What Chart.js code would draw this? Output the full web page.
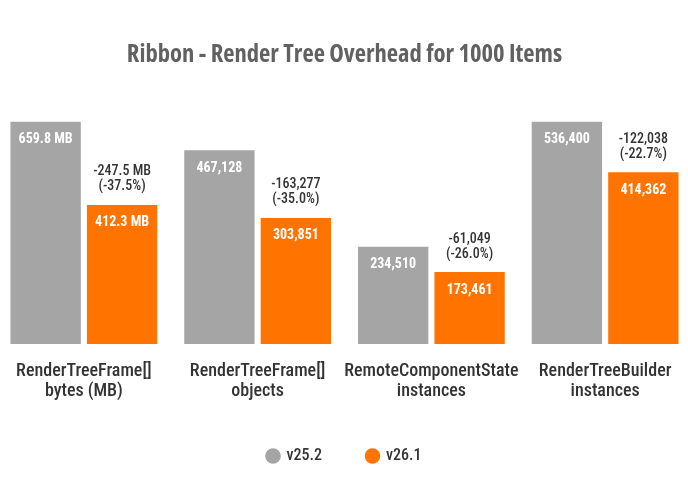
<!DOCTYPE html>
<html>
<head>
  <title>Ribbon - Render Tree Overhead</title>
  <script src="https://cdn.jsdelivr.net/npm/chart.js"></script>
  <style>
    body { margin: 0; background: #fff; overflow: hidden; }
    #wrap { width: 695px; height: 500px; margin-left: -3px; }
  </style>
</head>
<body>
  <div id="wrap"><canvas id="chart"></canvas></div>

  <script>
    // categories (multi-line tick labels)
    let categories = [
      ["RenderTreeFrame[]", "bytes (MB)"],
      ["RenderTreeFrame[]", "objects"],
      ["RemoteComponentState", "instances"],
      ["RenderTreeBuilder", "instances"]
    ];
    let isMB = [true, false, false, false];
    let v252 = [659.8, 467128, 234510, 536400];
    let v261 = [412.3, 303851, 173461, 414362];
    let changePct = [-37.5, -35.0, -26.0, -22.7];
    // each unit family is drawn against its own largest value
    let scaleBase = [659.8, 536400, 536400, 536400];

    let GRAY = "#a5a5a5";
    let ORANGE = "#ff7300";

    function fmt(v, mb) {
      if (mb) return v.toFixed(1) + " MB";
      return Math.round(v).toLocaleString("en-US");
    }

    function fmtDiff(i) {
      let d = v261[i] - v252[i];
      let s = isMB[i] ? d.toFixed(1) + " MB" : Math.round(d).toLocaleString("en-US");
      return [s, "(" + changePct[i].toFixed(1) + "%)"];
    }

    let barLabels = {
      id: "barLabels",
      afterDatasetsDraw(chart) {
        let ctx = chart.ctx;
        ctx.save();
        ctx.textAlign = "center";
        ctx.textBaseline = "middle";
        chart.data.datasets.forEach((ds, di) => {
          let meta = chart.getDatasetMeta(di);
          meta.data.forEach((bar, i) => {
            let raw = di === 0 ? v252[i] : v261[i];
            ctx.fillStyle = "#ffffff";
            ctx.font = "bold condensed 14px Roboto";
            ctx.fontStretch = "condensed";
            ctx.fillText(fmt(raw, isMB[i]), bar.x, bar.y + 18);
            if (di === 1) {
              let lines = fmtDiff(i);
              ctx.fillStyle = "#333333";
              ctx.font = "500 condensed 14px Roboto";
              ctx.fontStretch = "condensed";
              ctx.fillText(lines[0], bar.x, bar.y - 33);
              ctx.fillText(lines[1], bar.x, bar.y - 18);
            }
          });
        });
        ctx.restore();
      }
    };

    new Chart(document.getElementById("chart"), {
      type: "bar",
      data: {
        labels: categories,
        datasets: [
          {
            label: "v25.2",
            data: v252.map((v, i) => v / scaleBase[i]),
            backgroundColor: GRAY,
            barPercentage: 0.92,
            categoryPercentage: 0.88
          },
          {
            label: "v26.1",
            data: v261.map((v, i) => v / scaleBase[i]),
            backgroundColor: ORANGE,
            barPercentage: 0.92,
            categoryPercentage: 0.88
          }
        ]
      },
      options: {
        responsive: true,
        maintainAspectRatio: false,
        animation: false,
        layout: { padding: { left: 0, right: 0, top: 0, bottom: 26 } },
        scales: {
          x: {
            grid: { display: false },
            border: { display: false },
            afterFit(scale) { scale.height -= 7; },
            ticks: {
              color: "#333333",
              font: { family: "Roboto", size: 18, weight: "500 condensed", lineHeight: 1.11 },
              maxRotation: 0,
              minRotation: 0,
              autoSkip: false,
              padding: 9
            }
          },
          y: {
            display: false,
            min: 0,
            max: 1
          }
        },
        plugins: {
          title: {
            display: true,
            text: "Ribbon - Render Tree Overhead for 1000 Items",
            color: "#616161",
            font: { family: "'Open Sans'", size: 24.6, weight: "bold condensed" },
            padding: { top: 40, bottom: 52 }
          },
          legend: {
            position: "bottom",
            labels: {
              usePointStyle: true,
              pointStyle: "circle",
              boxWidth: 11,
              boxHeight: 11,
              padding: 45,
              color: "#333333",
              font: { family: "Roboto", size: 16, weight: "500 condensed" }
            }
          },
          tooltip: { enabled: false }
        }
      },
      plugins: [barLabels]
    });
  </script>
</body>
</html>
